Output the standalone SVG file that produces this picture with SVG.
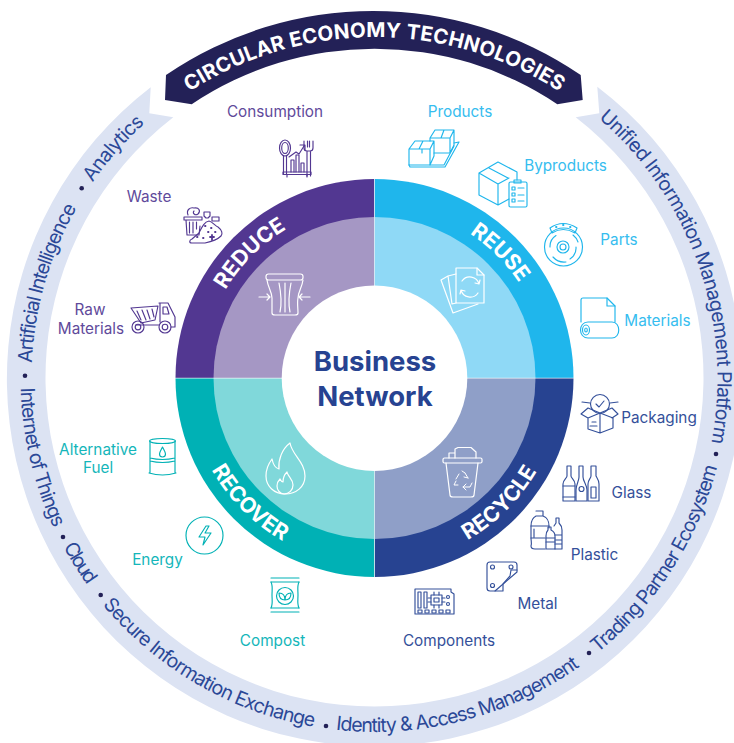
<svg xmlns="http://www.w3.org/2000/svg" width="734" height="743" viewBox="0 0 734 743">
<style>
text{font-family:Inter,"Liberation Sans",sans-serif}
.rt{font-size:19.5px;fill:#2b4897;font-weight:400}
.lb{font-size:15.3px;text-anchor:middle}
.q{font-size:21.5px;font-weight:700;fill:#fff;text-anchor:middle}
.ic{fill:none;stroke-width:1.15;stroke-linecap:round;stroke-linejoin:round}
.p{stroke:#523791}.pt{fill:#5f4a9b}
.b{stroke:#1fb6ec}.bt{fill:#36bdef}
.d{stroke:#34509a}.dt{fill:#34509a}
.t{stroke:#00b1b5}.tt{fill:#14b6ba}
.w{stroke:#fff;stroke-width:1.2}
.dot{fill:#232157}
</style>
<defs>
<path id="arcA" d="M31.5,378A343,343 0 0 1 374.5,35"/>
<path id="arcB" d="M374.5,35A343,343 0 0 1 671.5,549.5"/>
<path id="arcC" d="M20.5,378A354,354 0 0 0 728.5,378"/>
<path id="arcT" d="M133.4,137A341,341 0 0 1 615.6,137"/>
<path id="qRed" d="M201.5,378A173,173 0 0 1 374.5,205"/>
<path id="qReu" d="M374.5,205A173,173 0 0 1 547.5,378"/>
<path id="qRec" d="M374.5,565A187,187 0 0 0 561.5,378"/>
<path id="qCov" d="M187.5,378A187,187 0 0 0 374.5,565"/>
</defs>
<rect width="734" height="743" fill="#fff"/>
<g id="ring">
<path d="M150.7,87.3A367.5,367.5 0 1 0 597.3,86.7L599.3,113.3L575.7,117.3A329,329 0 1 1 173.3,117.3L149.3,113.3Z" fill="#dce3f3"/>
<text class="rt"><textPath href="#arcA" startOffset="15" textLength="163">Artificial Intelligence</textPath></text>
<text class="rt"><textPath href="#arcA" startOffset="208" textLength="79">Analytics</textPath></text>
<text class="rt"><textPath href="#arcB" startOffset="244" textLength="360">Unified Information Management Platform</textPath></text>
<text class="rt"><textPath href="#arcC" startOffset="10" textLength="145">Internet of Things</textPath></text>
<text class="rt"><textPath href="#arcC" startOffset="176" textLength="45">Cloud</textPath></text>
<text class="rt"><textPath href="#arcC" startOffset="246" textLength="249">Secure Information Exchange</textPath></text>
<text class="rt"><textPath href="#arcC" startOffset="517" textLength="258">Identity &amp; Access Management</textPath></text>
<text class="rt"><textPath href="#arcC" startOffset="797" textLength="225">Trading Partner Ecosystem</textPath></text>
<g class="dot"><circle cx="81.7" cy="188.3" r="2.3"/><circle cx="25" cy="375.7" r="2.3"/><circle cx="63" cy="537" r="2.3"/><circle cx="100.7" cy="595" r="2.3"/><circle cx="326" cy="726" r="2.3"/><circle cx="589" cy="653" r="2.3"/><circle cx="716" cy="454" r="2.3"/></g>
</g>
<g id="banner">
<path d="M166,75A367.5,367.5 0 0 1 580.7,75L582.7,100L557.3,104.3A328,328 0 0 0 191.7,104.3L165,100Z" fill="#232157"/>
<text font-size="20.5" font-weight="700" fill="#fff"><textPath href="#arcT" startOffset="72" textLength="391">CIRCULAR ECONOMY TECHNOLOGIES</textPath></text>
</g>
<g id="hub">
<path d="M374.5,378H175.5A199,199 0 0 1 374.5,179Z" fill="#523791"/>
<path d="M374.5,378V179A199,199 0 0 1 573.5,378Z" fill="#1fb6ec"/>
<path d="M374.5,378H573.5A199,199 0 0 1 374.5,577Z" fill="#274391"/>
<path d="M374.5,378V577A199,199 0 0 1 175.5,378Z" fill="#00b1b5"/>
<path d="M374.5,378H213.5A161,161 0 0 1 374.5,217Z" fill="#a597c4"/>
<path d="M374.5,378V217A161,161 0 0 1 535.5,378Z" fill="#8fd9f6"/>
<path d="M374.5,378H535.5A161,161 0 0 1 374.5,539Z" fill="#8f9fc8"/>
<path d="M374.5,378V539A161,161 0 0 1 213.5,378Z" fill="#80d8da"/>
<path d="M175,378.2H574M374.5,179V577" stroke="#fff" stroke-width=".8" opacity=".8"/>
<circle cx="374.5" cy="378.2" r="92.8" fill="#fff"/>
<text x="375" y="370.7" font-size="27.5" font-weight="700" fill="#274391" text-anchor="middle">Business</text>
<text x="375" y="405.7" font-size="27.5" font-weight="700" fill="#274391" text-anchor="middle">Network</text>
<text class="q"><textPath href="#qRed" startOffset="50%">REDUCE</textPath></text>
<text class="q"><textPath href="#qReu" startOffset="50%">REUSE</textPath></text>
<text class="q"><textPath href="#qCov" startOffset="50%">RECOVER</textPath></text>
<text class="q"><textPath href="#qRec" startOffset="50%">RECYCLE</textPath></text>
</g>
<g id="icon-press" class="ic w">
<rect x="266" y="274" width="37" height="6" rx="2.5"/>
<path d="M267,280C268,288 272,292 272,298C272,304 272,310 272,313Q272,315 275,315H295Q298,315 298,313C298,308 297,303 298,298C298,292 302,288 303,280"/>
<path d="M279,283C281,293 282,303 280,312M285,283V312M291,283C289,293 288,303 290,312"/>
<path d="M259,297H270M267,294L270,297L267,300M310,297H299M302,294L299,297L302,300"/>
</g>
<g id="icon-docs" class="ic w">
<path d="M456,268H477L484,275V303H456Z"/><path d="M477,268V275H484"/>
<path d="M456,274L448,276L452,304M456,303L452,304M448,276L441,280L453,313L478,304"/>
<path d="M462,281A9.5,9.5 0 0 1 479,284M478,293A9.5,9.5 0 0 1 461,290M479,284L480,280M479,284L475,283M461,290L460,294M461,290L465,291"/>
</g>
<g id="icon-bin" class="ic w">
<rect x="443" y="458" width="39" height="5" rx="1.500"/>
<path d="M446,463L450,495Q450,497 453,497H471Q474,497 474,495L478,463"/>
<path d="M449,458V453H455M455,458V449L458,447.500H471L476,452V458"/>
<path d="M456,479L459,474M465,473L468,478M458,485H454L456,481M463,487H470L472,483M466,484L463,487L466,490M468,478L464,477M462,471L465,473" stroke-width="1"/>
</g>
<g id="icon-flame" class="ic w">
<path d="M290,443C292,455 305,462 305,476C305,487 296,494 285,494C274,494 266,486 266,476C266,468 269,463 272,459C273,464 275,468 279,469C278,460 282,449 290,443Z"/>
<path d="M287,472C288,477 293,479 293,485C293,490 289,494 284,494C280,494 277,490 277,486C277,483 278,481 280,479C281,481 282,482 283,482C283,478 284,475 287,472Z"/>
</g>
<g id="consumption">
<text class="lb pt" x="275" y="117">Consumption</text>
<g class="ic p">
<ellipse cx="285" cy="148" rx="5.500" ry="8"/><ellipse cx="285" cy="148" rx="3.300" ry="5.500"/>
<path d="M283.500,156V174M286.500,156V174"/>
<path d="M304,141V148Q304,151 307,151H310Q313,151 313,148V141M307.500,141V147M309.500,141V147M307,151V176M310.500,151V176"/>
<path d="M291,172V160H294V172M296,172V155H299V172M301,172V163H304V172"/>
<path d="M289,157L296,152L299,154L304,146M300,145L305,145L305,150"/>
<path d="M283,172H311V174.500H283ZM287,174.500V177M307,174.500V177"/>
</g></g>
<g id="waste">
<text class="lb pt" x="149" y="202">Waste</text>
<g class="ic p">
<path d="M184,217H202V220H184ZM186,220L187,235H199L200,226"/>
<path d="M189.500,222V233M193,222V233M196.500,222V229"/>
<path d="M188,215C186,210 190,207 194,208C199,207 201,211 198,214C195,216 192,213 194,211"/>
<path d="M204,212H210V216L208,218H206L204,216ZM212,217H219V221H212Z"/>
<path d="M199,233C202,227 204,222 209,221C213,222 215,226 218,227C222,230 223,234 221,236C218,239 210,242 205,243H192C189,243 189,240 192,239L199,233Z"/>
<path d="M205,226H205.500M211,228H211.500M208,232H208.500M215,232H215.500M197,237H197.500M203,238H203.500M210,237H214M212,235V240" stroke-width="1.800"/>
</g></g>
<g id="raw-materials">
<text class="lb pt" x="90" y="315">Raw</text><text class="lb pt" x="91" y="334">Materials</text>
<g class="ic p">
<path d="M131,308L158,306L155,320L141,323Z"/>
<path d="M137,311L141,320M142,310L146,320M147,310L150,319M152,309L154,317M136,325H159"/>
<path d="M159,303H168L175,317V327H171M160,303V322M163,307H167L169,314H163Z"/>
<circle cx="138" cy="327" r="6"/><circle cx="138" cy="327" r="2.800"/>
<circle cx="165" cy="327" r="6"/><circle cx="165" cy="327" r="2.800"/>
</g></g>
<g id="products">
<text class="lb bt" x="460" y="117">Products</text>
<g class="ic b">
<path d="M409,149L415,141H434L430,149ZM409,149V165H430V149M434,141V156L430,165M419,149L423,141M422,149V153"/>
<path d="M430,138L435,130H454L450,138ZM430,138V141M450,138V153H434M454,130V145L450,153M441,138L444,130"/>
<path d="M409,165L410,167H445L459,142L454,143M430,165H444L454,146"/>
</g></g>
<g id="byproducts">
<text class="lb bt" x="565.500" y="171">Byproducts</text>
<g class="ic b">
<path d="M479,173L498,162L517,172V180M479,173V195L498,205L509,199M479,173L498,184V205M498,184L509,178M489,168L508,178"/>
<rect x="509" y="182" width="18" height="25" rx="1.500"/><rect x="514" y="180" width="7" height="3"/>
<path d="M512,187H515V190H512ZM518,188H524M512,193H515V196H512ZM518,195H524M512,199H515V202H512ZM518,201H524"/>
</g></g>
<g id="parts">
<text class="lb bt" x="619" y="245">Parts</text>
<g class="ic b">
<circle cx="563.500" cy="247" r="19"/>
<circle cx="563" cy="247" r="6"/><circle cx="563" cy="247" r="3"/>
<path d="M550,247A13,13 0 0 1 556,235.500M576,247A13,13 0 0 1 570,259M553,257A15,15 0 0 0 566,262M573,235A15,15 0 0 1 578,242"/>
<path d="M550,228Q563,219 577,228L575,233Q563,226 552,233Z"/>
<path d="M556,227H556.500M563,225H563.500M570,227H570.500" stroke-width="1.800"/>
</g></g>
<g id="materials">
<text class="lb bt" x="657.500" y="326">Materials</text>
<g class="ic b">
<path d="M581,322V300Q581,298 583,298H607L615,306V322"/><path d="M607,298V306H615"/>
<path d="M588,322H612C621,322 621,338 612,338H588C578,338 578,322 588,322Z"/>
<ellipse cx="586" cy="330" rx="3.500" ry="5"/><ellipse cx="586" cy="330" rx="1.300" ry="2"/>
</g></g>
<g id="packaging">
<text class="lb dt" x="659" y="423">Packaging</text>
<g class="ic d">
<circle cx="600" cy="404" r="9.500"/><path d="M596,404L599,407L604,401"/>
<path d="M600,413L588,408L581,414L588,418M600,413L612,408L618,414L612,418M600,413L588,418V429L600,433L613,428V418L600,413V433"/>
<path d="M590,403L582,402M610,403L618,402M592,422H596M590,426H597"/>
</g></g>
<g id="glass">
<text class="lb dt" x="631.500" y="498">Glass</text>
<g class="ic d">
<path d="M567,466H571V476C571,478 575,480 575,484V501H563V484C563,480 567,478 567,476Z"/><path d="M563,486H575M563,497H575"/>
<path d="M579,466H583V477C583,481 587,485 587,490V501H576V490C576,485 579,481 579,477Z"/><circle cx="581.500" cy="489" r="2.500"/>
<path d="M591,466H596V476C597,478 599,480 599,484V501H588V484C588,480 591,478 591,476Z"/><path d="M591,487H596V498H591Z"/>
</g></g>
<g id="plastic">
<text class="lb dt" x="594.500" y="560">Plastic</text>
<g class="ic d">
<path d="M536,511H543V516C548,518 549,521 549,526V528M536,516C532,518 531,521 531,526V538C531,541 532,543 531,546C531,549 533,549 535,549H545M536,516H543"/>
<path d="M531,526H549M531,538H545M534,529V537"/>
<path d="M548,527H551V530C553,531 555,533 555,536V549H546V536C546,533 547,531 548,530Z"/><path d="M546,538H555M546,542H555"/>
<path d="M556,518H559V523C561,525 562,527 562,530V549H555M556,518V523L554,526M555,535H562M555,540H562M555,544H562"/>
</g></g>
<g id="metal">
<text class="lb dt" x="537.500" y="609">Metal</text>
<g class="ic d">
<path d="M490,562H514Q517,562 517,565V572L495,591H490Q487,591 487,588V565Q487,562 490,562Z"/>
<path d="M517,570H511L510,576L503,584V591H495"/>
<circle cx="492.500" cy="567" r="2"/><circle cx="511" cy="567" r="2"/><circle cx="492.500" cy="585.500" r="2"/>
</g></g>
<g id="components">
<text class="lb dt" x="449" y="646">Components</text>
<g class="ic d">
<path d="M415,589H451V592L454,594V614H415Z"/>
<path d="M418,592H421V608H418ZM424,592H427V608H424Z"/>
<rect x="431" y="595" width="11" height="10"/><path d="M434,598H439V602H434ZM431,598H428M431,602H428M442,598H445M442,602H445M434,595V592M439,595V592M434,605V608M439,605V608"/>
<circle cx="448" cy="597" r="1.500"/><circle cx="448" cy="604" r="1.500"/>
<path d="M418,610H422V613H418ZM425,610H429V613H425ZM432,610H436V613H432ZM439,610H443V613H439ZM446,610H450V613H446Z"/>
</g></g>
<g id="alternative-fuel">
<text class="lb tt" x="98" y="455">Alternative</text><text class="lb tt" x="98" y="473">Fuel</text>
<g class="ic t">
<ellipse cx="162.500" cy="441" rx="13" ry="2.500"/>
<path d="M150,441V473M175,441V473M150,458Q162.500,461 175,458M150,461Q162.500,464 175,461M149,473Q162.500,477 176,473"/>
<path d="M162.500,447C164,450 165.500,452 165.500,454A3,3 0 0 1 159.500,454C159.500,452 161,450 162.500,447Z"/>
</g></g>
<g id="energy">
<text class="lb tt" x="157.500" y="565">Energy</text>
<g class="ic t">
<circle cx="204.500" cy="535.500" r="18.500"/>
<path d="M206,526L199,537H205L203,545L211,533H205L209,526Z"/>
</g></g>
<g id="compost">
<text class="lb tt" x="272.500" y="646">Compost</text>
<g class="ic t">
<path d="M271,578H299M271,582H299M271,608H299M271,612H299"/>
<path d="M271,582C273,586 272,590 272,595C272,600 273,604 271,608M299,582C297,586 298,590 298,595C298,600 297,604 299,608"/>
<circle cx="285" cy="596" r="8.500"/>
<path d="M285,600C281,600 279,597 279,593C283,593 285,596 285,600C285,596 287,593 291,593C291,597 289,600 285,600Z"/>
</g></g>
</svg>
